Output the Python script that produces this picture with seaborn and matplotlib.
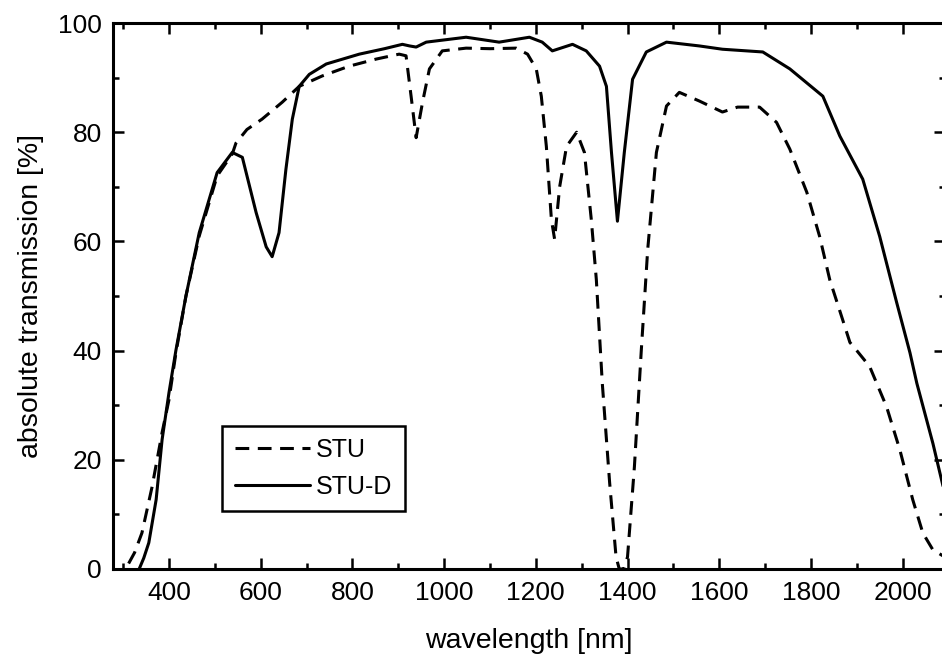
import numpy as np
import pandas as pd
import matplotlib
matplotlib.use("Agg")
import matplotlib.pyplot as plt
from matplotlib.ticker import MultipleLocator
import seaborn as sns

# -------------------- data --------------------
wl_stu = [312, 325, 341, 363, 378, 385, 400, 415, 437, 466, 505, 538, 546, 570,
          603, 647, 684, 734, 793, 852, 902, 917, 928, 939, 953, 968, 996, 1048,
          1100, 1157, 1182, 1201, 1212, 1223, 1234, 1241, 1252, 1267, 1289, 1306,
          1321, 1332, 1345, 1361, 1375, 1382, 1392, 1400, 1415, 1430, 1444, 1463,
          1485, 1513, 1557, 1607, 1640, 1688, 1725, 1754, 1791, 1819, 1841, 1869,
          1885, 1900, 1928, 1965, 1994, 2022, 2044, 2066, 2090]
t_stu = [1.0, 3, 6.6, 15, 21.8, 25, 31, 39.5, 50, 61, 72, 76, 78, 80.5,
         82.4, 85.5, 88.4, 90.3, 92.1, 93.4, 94.3, 94, 86.6, 79, 85.5, 91.6, 94.9, 95.4,
         95.3, 95.4, 94.3, 91.6, 86.6, 77.4, 64, 60.4, 70, 77.4, 80, 76.3,
         64, 53, 34, 15.8, 2.2, 0, 0, 2.2, 18.7, 40, 58.5, 76.3,
         84.8, 87.3, 85.7, 83.7, 84.6, 84.6, 81.8, 76.9, 69, 60.9, 53, 45.7,
         41.5, 40, 37.1, 29.7, 21.8, 12.7, 6.6, 3.5, 2.3]

wl_stud = [335, 345, 356, 372, 385, 400, 415, 437, 466, 505, 538, 560, 590, 612,
           625, 640, 655, 669, 684, 706, 743, 815, 870, 909, 925, 939, 961, 1048,
           1120, 1186, 1214, 1236, 1280, 1310, 1339, 1354, 1365, 1378, 1393, 1411,
           1441, 1485, 1557, 1607, 1695, 1754, 1826, 1863, 1913, 1950, 1987, 2016,
           2031, 2066, 2090]
t_stud = [0, 2, 4.8, 12.7, 23.7, 32.3, 40, 50, 61.6, 72.6, 76.3, 75.4, 65.3, 59,
          57.2, 61.6, 73.2, 82.4, 88.4, 90.6, 92.5, 94.3, 95.3, 96.1, 95.8, 95.6, 96.5, 97.4,
          96.5, 97.4, 96.5, 94.9, 96.1, 94.9, 92.1, 88.4, 76.3, 63.7, 76.3, 89.7,
          94.7, 96.5, 95.8, 95.2, 94.7, 91.6, 86.6, 79.3, 71.4, 60.9, 48.8, 39.6,
          34, 23, 14.5]

df_stu = pd.DataFrame({'wavelength': wl_stu, 'transmission': t_stu})
df_stud = pd.DataFrame({'wavelength': wl_stud, 'transmission': t_stud})

# -------------------- style --------------------
sns.set_style('ticks')
plt.rcParams['font.family'] = ['Liberation Sans', 'DejaVu Sans']
plt.rcParams['text.color'] = 'black'
plt.rcParams['axes.labelcolor'] = 'black'
plt.rcParams['lines.dashed_pattern'] = [4.5, 2.8]

fig = plt.figure(figsize=(9.42, 6.58), dpi=100)
ax = fig.add_axes([0.12, 0.1353, 0.883, 0.8297])

sns.lineplot(data=df_stu, x='wavelength', y='transmission', ax=ax,
             color='black', linestyle='--', linewidth=2.2, label='STU')
sns.lineplot(data=df_stud, x='wavelength', y='transmission', ax=ax,
             color='black', linewidth=2.2, label='STU-D')

ax.set_xlim(278, 2092)
ax.set_ylim(0, 100)
ax.xaxis.set_minor_locator(MultipleLocator(100))
ax.yaxis.set_major_locator(MultipleLocator(20))
ax.yaxis.set_minor_locator(MultipleLocator(10))
ax.set_xticks([400, 600, 800, 1000, 1200, 1400, 1600, 1800, 2000])

ax.tick_params(which='both', direction='in', top=True, right=True,
               labelsize=19, width=1.8, colors='black')
ax.tick_params(which='major', length=8)
ax.tick_params(which='minor', length=4)
ax.tick_params(axis='x', pad=9)
ax.tick_params(axis='y', pad=8)
for s in ax.spines.values():
    s.set_linewidth(2.2)
    s.set_color('black')

ax.set_xlabel('wavelength [nm]', fontsize=20.5, labelpad=16, color='black')
ax.set_ylabel('absolute transmission [%]', fontsize=20.5, labelpad=10, color='black')

leg = ax.legend(loc='lower left', bbox_to_anchor=(0.131, 0.106), borderaxespad=0,
                fontsize=18, handlelength=3.0, handletextpad=0.25,
                labelspacing=0.5, fancybox=False, framealpha=1,
                borderpad=0.5)
leg.get_frame().set_edgecolor('black')
leg.get_frame().set_linewidth(1.8)

fig.savefig('out.png', dpi=100)
